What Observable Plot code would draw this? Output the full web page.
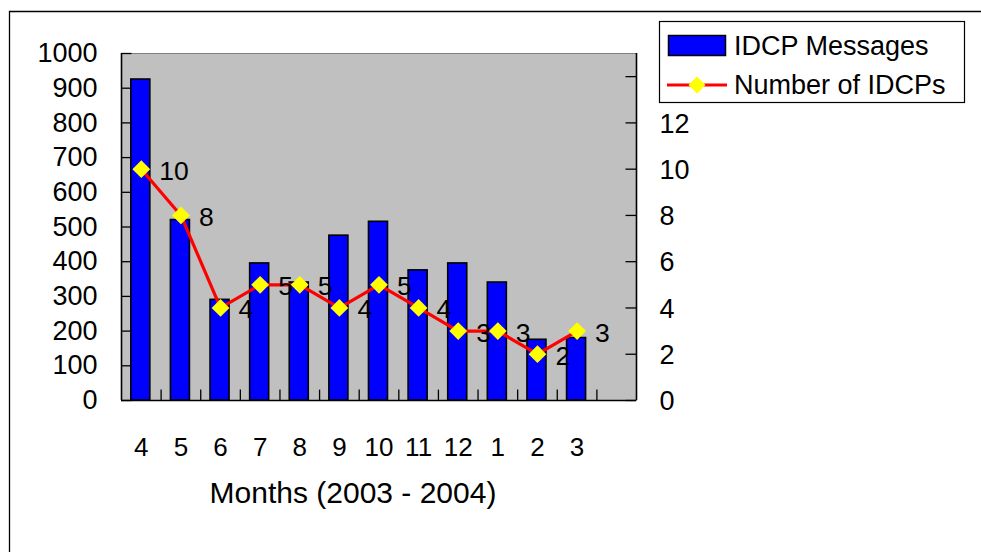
<!DOCTYPE html>
<html>
<head>
<meta charset="utf-8">
<script src="https://cdn.jsdelivr.net/npm/d3@7"></script>
<script src="https://cdn.jsdelivr.net/npm/@observablehq/plot@0.6"></script>
<style>
  html, body { margin: 0; padding: 0; background: #fff; }
  svg { display: block; }
</style>
</head>
<body>
<div id="chart"></div>
<script>
// ---- data ----
const months = ["4", "5", "6", "7", "8", "9", "10", "11", "12", "1", "2", "3"];
const messages = [925, 520, 290, 395, 340, 475, 515, 375, 395, 340, 175, 180];
const idcps = [10, 8, 4, 5, 5, 4, 5, 4, 3, 3, 2, 3];
const leftTicks = [0, 100, 200, 300, 400, 500, 600, 700, 800, 900, 1000];
const rightTicks = [0, 2, 4, 6, 8, 10, 12, 14];
const rightMax = 15;
const leftMax = 1000;
const xTitle = "Months (2003 - 2004)";
const seriesNames = ["IDCP Messages", "Number of IDCPs"];

// ---- layout ----
const W = 981, H = 552;
const mL = 121, mR = 345, mT = 53, mB = 152;
const slots = [...months, " "];          // extra empty slot at the end
const bw = (W - mL - mR) / slots.length;
const toLeft = v => v * leftMax / rightMax;

const rows = months.map((m, i) => ({month: m, messages: messages[i], n: idcps[i]}));
const font = "Arial, 'Liberation Sans', sans-serif";

const svg = Plot.plot({
  width: W, height: H,
  marginLeft: mL, marginRight: mR, marginTop: mT, marginBottom: mB,
  style: {fontFamily: font, fontSize: "26px", background: "#fff", color: "#000", overflow: "visible"},
  x: {type: "band", domain: slots, padding: 0, round: false, axis: null},
  y: {domain: [0, leftMax], axis: null},
  marks: [
    Plot.frame({fill: "#C0C0C0", stroke: "#808080", strokeWidth: 1}),
    // bars
    Plot.barY(rows, {x: "month", y: "messages", fill: "#0000FF", stroke: "#000", strokeWidth: 1.6,
      insetLeft: 9.8, insetRight: 10.8}),
    // axis lines
    Plot.ruleY([0], {stroke: "#000", strokeWidth: 1.6}),
    Plot.ruleX([slots[0]], {x: d => d, y1: 0, y2: leftMax, dx: -bw / 2, stroke: "#000", strokeWidth: 1.6}),
    Plot.ruleX([slots[slots.length - 1]], {x: d => d, y1: 0, y2: leftMax, dx: bw / 2, stroke: "#000", strokeWidth: 1.6}),
    // left inward ticks
    Plot.tickY(leftTicks, {y: d => d, x: () => slots[0], insetRight: bw - 10.5, stroke: "#000", strokeWidth: 1.3}),
    // right inward ticks
    Plot.tickY(rightTicks, {y: d => toLeft(d), x: () => slots[slots.length - 1], insetLeft: bw - 10.5, stroke: "#000", strokeWidth: 1.3}),
    // bottom category-boundary ticks
    Plot.ruleX(slots.slice(1), {x: d => d, y1: 0, y2: 30, dx: -bw / 2, stroke: "#000", strokeWidth: 1.3}),
    // line series
    Plot.line(rows, {x: "month", y: d => toLeft(d.n), stroke: "#FF0000", strokeWidth: 3.2}),
    Plot.dot(rows, {x: "month", y: d => toLeft(d.n), symbol: "diamond2", r: 8, fill: "#FFFF00", stroke: "none"}),
    Plot.text(rows, {x: "month", y: d => toLeft(d.n), text: d => String(d.n), textAnchor: "start",
      dx: 18, dy: 2, fontSize: 26.5, fill: "#000"}),
    // left axis labels
    Plot.axisY(leftTicks, {anchor: "left", tickSize: 0, tickPadding: 24, fontSize: 27, label: null,
      tickFormat: d => String(d)}),
    // right axis labels
    Plot.text(rightTicks, {y: d => toLeft(d), x: () => slots[slots.length - 1], text: d => String(d),
      textAnchor: "start", dx: bw / 2 + 23, dy: 1, fontSize: 27, fill: "#000"}),
    // x axis labels
    Plot.axisX(months, {anchor: "bottom", tickSize: 0, tickPadding: 37, fontSize: 26, label: null}),
    // x title
    Plot.text([xTitle], {frameAnchor: "bottom", text: d => d, lineAnchor: "bottom", dy: 102, dx: -26,
      fontSize: 30, fill: "#000"})
  ]
});

const s = d3.select(svg);
// outer chart border
s.append("path")
  .attr("d", `M9.5,${H}V11.5H${W}`)
  .attr("fill", "none").attr("stroke", "#000").attr("stroke-width", 1.3);

// legend
const lg = s.append("g").attr("font-family", font).attr("font-size", 27).attr("text-anchor", "start");
lg.append("rect").attr("x", 659.5).attr("y", 21.5).attr("width", 305).attr("height", 81)
  .attr("fill", "#fff").attr("stroke", "#000").attr("stroke-width", 1.2);
lg.append("rect").attr("x", 668.5).attr("y", 35.5).attr("width", 57).attr("height", 20)
  .attr("fill", "#0000FF").attr("stroke", "#000").attr("stroke-width", 1.5);
lg.append("text").attr("x", 734).attr("y", 55).text(seriesNames[0]);
lg.append("line").attr("x1", 667).attr("x2", 727).attr("y1", 85).attr("y2", 85)
  .attr("stroke", "#FF0000").attr("stroke-width", 3.2);
lg.append("path").attr("d", "M697,76.5L705.5,85L697,93.5L688.5,85Z").attr("fill", "#FFFF00");
lg.append("text").attr("x", 734).attr("y", 94).text(seriesNames[1]);

document.getElementById("chart").appendChild(svg);
</script>
</body>
</html>
